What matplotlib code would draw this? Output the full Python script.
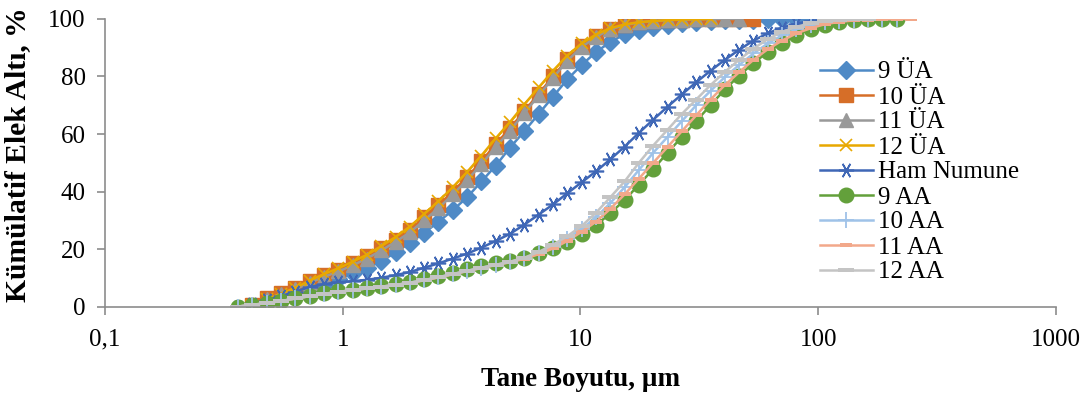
import numpy as np
import matplotlib
matplotlib.use("Agg")
import matplotlib.pyplot as plt
from matplotlib.path import Path

plt.rcParams['font.family'] = ['Liberation Serif', 'DejaVu Serif']

# particle size classes (um)
size_um = [0.363, 0.417, 0.479, 0.550, 0.632, 0.726, 0.834, 0.958, 1.100, 1.264,
           1.452, 1.668, 1.916, 2.201, 2.528, 2.904, 3.336, 3.832, 4.402, 5.057,
           5.809, 6.673, 7.665, 8.805, 10.11, 11.62, 13.35, 15.33, 17.61, 20.23,
           23.24, 26.70, 30.67, 35.23, 40.47, 46.49, 53.40, 61.34, 70.47, 80.95,
           92.99, 106.8, 122.7, 141.0, 161.9, 186.0, 213.7, 245.5]

ua9 = [0, 1.6, 2.8, 4.2, 5.8, 7.5, 9.5, 11.5, 13.5, 15.8, 18.8, 22.2, 25.6, 29.5,
       33.5, 38.0, 43.5, 49.0, 55.3, 61.0, 67.0, 73.0, 79.0, 84.0, 88.5, 92.0, 94.7,
       96.3, 97.3, 98.0, 98.5, 99.0, 99.3, 99.5, 99.7, 99.8, 99.9, 100, 100, 100]
ua10 = [0.5, 3.0, 4.8, 6.5, 9.0, 11.0, 12.8, 15.0, 17.4, 20.3, 23.3, 26.7, 31.0, 35.2,
        40.0, 45.0, 50.5, 56.5, 62.0, 68.0, 74.0, 80.0, 86.0, 90.5, 94.0, 96.5, 98.0,
        98.8, 99.3, 99.6, 99.8, 99.9, 100, 100, 100, 100]
ua11 = [0.3, 2.6, 4.3, 6.0, 8.3, 10.3, 12.2, 14.3, 16.7, 19.5, 22.5, 25.8, 30.0, 34.2,
        39.0, 44.0, 49.5, 55.5, 61.2, 67.3, 73.4, 79.5, 85.5, 90.2, 93.8, 96.4, 97.9,
        98.8, 99.3, 99.6, 99.8, 99.9, 100, 100, 100]
ua12 = [0.3, 2.5, 4.5, 6.5, 9.0, 11.3, 13.3, 15.6, 18.0, 21.0, 24.2, 27.8, 32.2, 36.6,
        41.5, 46.8, 52.5, 58.5, 64.2, 70.3, 76.2, 82.0, 87.3, 91.5, 94.6, 96.8, 98.1,
        98.9, 99.3, 99.6, 99.8, 99.9, 100]
ham = [0, 1.0, 2.2, 3.6, 5.2, 6.8, 7.8, 8.4, 8.8, 9.3, 10.0, 10.9, 12.0, 13.5, 15.0,
       16.7, 18.4, 20.5, 22.8, 25.3, 28.5, 32.0, 35.5, 39.4, 43.2, 47.0, 51.2, 55.6,
       60.4, 65.0, 69.5, 73.8, 78.0, 82.0, 85.8, 89.3, 92.5, 95.0, 97.0, 98.4, 99.3,
       99.8, 100, 100]
aa9 = [0, 0.7, 1.3, 2.0, 3.0, 3.8, 4.6, 5.3, 5.9, 6.5, 7.1, 7.7, 8.5, 9.5, 10.6, 11.8,
       13.0, 14.2, 15.2, 16.0, 17.0, 18.5, 20.3, 22.6, 25.3, 28.2, 32.5, 37.0, 42.4,
       47.8, 53.5, 59.0, 64.5, 70.0, 75.5, 80.3, 84.7, 88.5, 91.8, 94.4, 96.5, 98.0,
       99.0, 99.6, 99.9, 100, 100]
aa10 = [0, 0.6, 1.2, 1.9, 2.8, 3.6, 4.4, 5.1, 5.7, 6.3, 6.9, 7.5, 8.3, 9.2, 10.2, 11.3,
        12.4, 13.5, 14.5, 15.5, 16.8, 18.6, 20.8, 23.6, 27.0, 31.0, 36.0, 41.5, 47.5,
        53.5, 59.0, 64.5, 70.0, 75.0, 79.8, 84.0, 88.0, 91.5, 94.3, 96.4, 97.8, 98.8,
        99.4, 99.7, 99.9, 100, 100]
aa11 = [0, 0.6, 1.2, 1.9, 2.8, 3.6, 4.4, 5.1, 5.7, 6.3, 6.9, 7.5, 8.2, 9.1, 10.1, 11.2,
        12.3, 13.4, 14.4, 15.4, 16.6, 18.2, 20.2, 22.8, 26.0, 29.5, 34.0, 39.0, 44.5,
        50.0, 55.5, 61.0, 66.5, 72.0, 77.0, 81.5, 85.8, 89.5, 92.5, 95.0, 96.8, 98.2,
        99.0, 99.5, 99.8, 99.9, 100, 100]
aa12 = [0, 0.6, 1.2, 1.9, 2.8, 3.6, 4.4, 5.1, 5.7, 6.3, 6.9, 7.5, 8.3, 9.2, 10.2, 11.3,
        12.4, 13.5, 14.5, 15.6, 17.0, 19.0, 21.5, 24.5, 28.0, 32.6, 38.0, 43.5, 50.0,
        56.0, 61.5, 67.0, 72.0, 77.0, 81.6, 85.8, 89.7, 93.0, 95.5, 97.3, 98.5, 99.3,
        99.7, 99.9, 100]

labels = ['9 ÜA', '10 ÜA', '11 ÜA', '12 ÜA', 'Ham Numune', '9 AA', '10 AA', '11 AA', '12 AA']
series = [ua9, ua10, ua11, ua12, ham, aa9, aa10, aa11, aa12]
starts = [1, 1, 1, 1, 0, 0, 0, 0, 0]
colors = ['#4f8ac6', '#d66e28', '#999999', '#e8a800', '#3f67b6',
          '#63a03b', '#9fc2e8', '#f2a88a', '#c4c4c4']

dash = Path([(-1, -0.35), (1, -0.35), (1, 0.35), (-1, 0.35), (-1, -0.35)])
bar = Path([(-1, -0.25), (1, -0.25), (1, 0.25), (-1, 0.25), (-1, -0.25)])
styles = [
    dict(marker='D', ms=8.8),
    dict(marker='s', ms=10),
    dict(marker='^', ms=10.5),
    dict(marker='x', ms=8.5, mew=1.2),
    dict(marker=(6, 2, 90), ms=11, mew=1.2),
    dict(marker='o', ms=10.5),
    dict(marker='+', ms=11, mew=1.3),
    dict(marker=dash, ms=8.5, mew=0),
    dict(marker=bar, ms=12, mew=0),
]

fig = plt.figure(figsize=(10.89, 3.94), dpi=100)
ax = fig.add_axes([0.0964, 0.222, 0.8733, 0.7298])

for vals, st, c, lab, kw in zip(series, starts, colors, labels, styles):
    x = size_um[st:st + len(vals)]
    ax.plot(x, vals, color=c, lw=1.8, label=lab, mfc=c, mec=c, **kw)

ax.set_xscale('log')
ax.set_xlim(0.1, 1000)
ax.set_ylim(0, 100)
ax.set_xticks([0.1, 1, 10, 100, 1000])
ax.set_xticklabels(['0,1', '1', '10', '100', '1000'])
ax.minorticks_off()
ax.set_yticks([0, 20, 40, 60, 80, 100])

for s in ['top', 'right']:
    ax.spines[s].set_visible(False)
for s in ['left', 'bottom']:
    ax.spines[s].set_color('#8c8c8c')
    ax.spines[s].set_linewidth(1.2)
ax.tick_params(colors='#8c8c8c', labelcolor='black', labelsize=18, length=6, width=1.2)
ax.tick_params(axis='x', pad=10)
ax.tick_params(axis='y', pad=8)

ax.set_xlabel('Tane Boyutu, µm', fontsize=19.5, fontweight='bold', labelpad=12)
ax.set_ylabel('Kümülatif Elek Altı, %', fontsize=21.3, fontweight='bold')
ax.yaxis.set_label_coords(-0.078, 0.53)

ax.legend(loc='upper left', bbox_to_anchor=(820 / 1089, (394 - 61) / 394),
          bbox_transform=fig.transFigure, frameon=False, fontsize=18,
          handlelength=2.1, handletextpad=0.2, labelspacing=0.1,
          borderpad=0, borderaxespad=0)

fig.savefig('out.png', dpi=100)
